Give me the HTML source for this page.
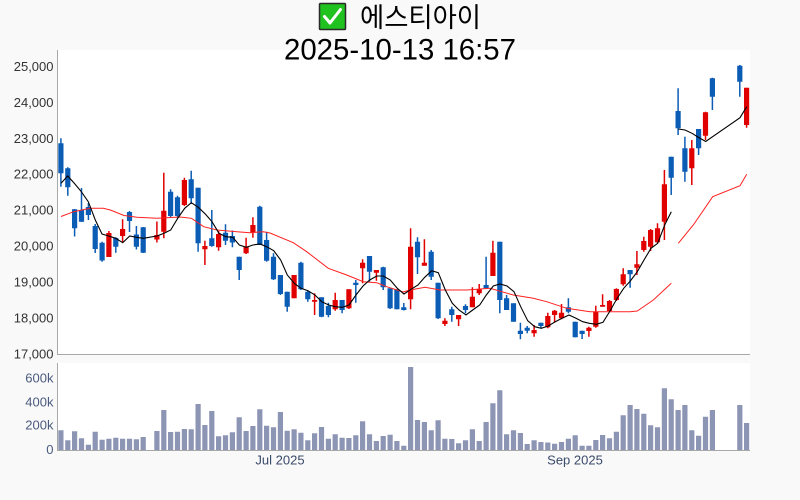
<!DOCTYPE html>
<html><head><meta charset="utf-8"><style>
html,body{margin:0;padding:0;background:#f9f9f9;}
svg{display:block;}
text{font-family:"Liberation Sans","Noto Sans CJK KR",sans-serif;}
</style></head><body>
<svg width="800" height="500" viewBox="0 0 800 500" xmlns="http://www.w3.org/2000/svg">
<rect x="0" y="0" width="800" height="500" fill="#f9f9f9"/>
<!-- plot areas -->
<rect x="57.5" y="50" width="692.5" height="304.5" fill="#ffffff"/>
<rect x="57.5" y="363" width="692.5" height="87" fill="#ffffff"/>
<!-- axis lines -->
<path d="M57.5 50V355M57 354.5H750M57.5 363V450.5M57 450.5H750" stroke="#a8a8a8" stroke-width="1" fill="none"/>

<!-- title -->
<rect x="319.5" y="3.5" width="26" height="26" rx="1" fill="#1fc21f" stroke="#2a2a2a" stroke-width="1.5"/>
<path d="M324.5 16.5L330 23L340.5 9.5" stroke="#ffffff" stroke-width="3" fill="none" stroke-linecap="round" stroke-linejoin="round"/>
<text x="360" y="27" font-size="27" fill="#000" textLength="121" lengthAdjust="spacingAndGlyphs" style='font-family:"Liberation Sans","Noto Sans CJK KR",sans-serif'>에스티아이</text>
<text x="284" y="59.3" font-size="30" fill="#000" textLength="232" lengthAdjust="spacingAndGlyphs">2025-10-13 16:57</text>

<!-- y labels main -->
<g font-size="13" fill="#333" text-anchor="end">
<text x="53.5" y="70.9">25,000</text>
<text x="53.5" y="106.8">24,000</text>
<text x="53.5" y="142.8">23,000</text>
<text x="53.5" y="178.7">22,000</text>
<text x="53.5" y="214.6">21,000</text>
<text x="53.5" y="250.5">20,000</text>
<text x="53.5" y="286.5">19,000</text>
<text x="53.5" y="322.4">18,000</text>
<text x="53.5" y="358.3">17,000</text>
</g>
<g font-size="13" fill="#4b5a7e" text-anchor="end">
<text x="53.5" y="382.4">600k</text>
<text x="53.5" y="406.4">400k</text>
<text x="53.5" y="429.7">200k</text>
<text x="53.5" y="454">0</text>
</g>
<g font-size="13" fill="#3a4a6a" text-anchor="middle">
<text x="280" y="464.5">Jul 2025</text>
<text x="575" y="464.5">Sep 2025</text>
</g>

<!-- volume bars -->
<path fill="#8d95b5" d="M58.3 450V430.3h5.2V450ZM65.2 450V440.3h5.2V450ZM72 450V431.3h5.2V450ZM78.9 450V438.3h5.2V450ZM85.8 450V444.7h5.2V450ZM92.6 450V431.7h5.2V450ZM99.5 450V439.7h5.2V450ZM106.3 450V438.7h5.2V450ZM113.2 450V437.7h5.2V450ZM120 450V438.7h5.2V450ZM126.9 450V438.7h5.2V450ZM133.8 450V439.3h5.2V450ZM140.6 450V437h5.2V450ZM154.3 450V431h5.2V450ZM161.2 450V410h5.2V450ZM168 450V432h5.2V450ZM174.9 450V431.7h5.2V450ZM181.8 450V429h5.2V450ZM188.6 450V429.3h5.2V450ZM195.5 450V404h5.2V450ZM202.3 450V425h5.2V450ZM209.2 450V411h5.2V450ZM216 450V436.3h5.2V450ZM222.9 450V435.3h5.2V450ZM229.8 450V432.3h5.2V450ZM236.6 450V417.3h5.2V450ZM243.5 450V431h5.2V450ZM250.3 450V426h5.2V450ZM257.2 450V409.3h5.2V450ZM264 450V425.7h5.2V450ZM270.9 450V427.3h5.2V450ZM277.8 450V412h5.2V450ZM284.6 450V430.7h5.2V450ZM291.5 450V429.3h5.2V450ZM298.3 450V432.7h5.2V450ZM305.2 450V440.3h5.2V450ZM312 450V433.3h5.2V450ZM318.9 450V427h5.2V450ZM325.8 450V438.7h5.2V450ZM332.6 450V434.3h5.2V450ZM339.5 450V437.7h5.2V450ZM346.3 450V438h5.2V450ZM353.2 450V435.3h5.2V450ZM360 450V421.3h5.2V450ZM366.9 450V434.3h5.2V450ZM373.8 450V441h5.2V450ZM380.6 450V436h5.2V450ZM387.5 450V434.7h5.2V450ZM394.3 450V441h5.2V450ZM401.2 450V445.7h5.2V450ZM408 450V367h5.2V450ZM414.9 450V420h5.2V450ZM421.8 450V422h5.2V450ZM428.6 450V430.3h5.2V450ZM435.5 450V420.3h5.2V450ZM442.3 450V438.7h5.2V450ZM449.2 450V439h5.2V450ZM456 450V443.3h5.2V450ZM462.9 450V440.3h5.2V450ZM469.8 450V429.3h5.2V450ZM476.6 450V441h5.2V450ZM483.5 450V422h5.2V450ZM490.3 450V403.3h5.2V450ZM497.2 450V390.3h5.2V450ZM504 450V434.3h5.2V450ZM510.9 450V430.3h5.2V450ZM517.8 450V433h5.2V450ZM524.6 450V444h5.2V450ZM531.5 450V440.3h5.2V450ZM538.3 450V442h5.2V450ZM545.2 450V442.5h5.2V450ZM552 450V443.7h5.2V450ZM558.9 450V442h5.2V450ZM565.8 450V438.7h5.2V450ZM572.6 450V435.3h5.2V450ZM579.5 450V445.7h5.2V450ZM586.3 450V445.7h5.2V450ZM593.2 450V440h5.2V450ZM600 450V435h5.2V450ZM606.9 450V438.3h5.2V450ZM613.8 450V431.7h5.2V450ZM620.6 450V415.3h5.2V450ZM627.5 450V405h5.2V450ZM634.3 450V409h5.2V450ZM641.2 450V413.7h5.2V450ZM648 450V425.3h5.2V450ZM654.9 450V427.3h5.2V450ZM661.8 450V388.3h5.2V450ZM668.6 450V399.3h5.2V450ZM675.5 450V410h5.2V450ZM682.3 450V405h5.2V450ZM689.2 450V430.3h5.2V450ZM696 450V435.7h5.2V450ZM702.9 450V416.7h5.2V450ZM709.8 450V410h5.2V450ZM737.2 450V405h5.2V450ZM744 450V423h5.2V450Z"/>

<!-- blue candles -->
<path stroke="#0b5cb5" stroke-width="1.5" fill="none" d="M60.9 138.3V186.7M67.8 167.3V195.7M74.6 209V236.5M81.5 188V222M88.4 203V220M95.2 224V253M102.1 241.7V261.7M115.8 237.3V252.7M129.5 211V232M136.4 226V249.5M143.2 227V253M170.6 189.3V217.3M177.5 195.7V218.3M191.2 170.7V204M198.1 187.7V251.7M211.8 210V246.7M225.5 224.3V245M232.4 230.5V247.3M239.2 256.7V280M259.8 205.7V245M266.6 231.7V261.7M273.5 253.3V280M280.4 275V295M287.2 291.7V311.7M300.9 261.7V290M307.8 290.7V301.7M321.5 297.3V317.3M328.4 302.7V317.3M342.1 300V313.3M355.8 280V302.7M369.5 256V281.7M383.2 266.7V290M390.1 288.3V309M396.9 289.3V309.3M403.8 303V310.5M417.5 237.3V274M431.2 250V280M438.1 282.7V319M451.8 306.7V321.7M465.5 304.3V313.3M486.1 256.7V288.3M499.8 241.7V313.3M506.6 295V310M513.5 303.3V321.7M520.4 322.7V339.3M527.2 326V333.3M540.9 322.7V328.3M568.4 298.3V313.3M575.2 321.7V337.3M582.1 330.7V339M630.1 270V287.7M671.2 156.7V195M678.1 88.3V135M684.9 136.7V181.7M698.6 129V155M712.4 77.7V110M739.8 65V96.7"/>
<path fill="#0b5cb5" d="M58.3 143.3h5.2V173.3h-5.2ZM65.2 168.3h5.2V187.3h-5.2ZM72 209.3h5.2V228.3h-5.2ZM78.9 210h5.2V221.7h-5.2ZM85.8 207h5.2V215h-5.2ZM92.6 226h5.2V249h-5.2ZM99.5 242.7h5.2V260.5h-5.2ZM113.2 238h5.2V246.7h-5.2ZM126.9 212h5.2V221h-5.2ZM133.8 234.5h5.2V246.7h-5.2ZM140.6 227.3h5.2V252.7h-5.2ZM168 191.7h5.2V216h-5.2ZM174.9 197.3h5.2V216h-5.2ZM188.6 179.3h5.2V198.3h-5.2ZM195.5 187.7h5.2V243.3h-5.2ZM209.2 238.3h5.2V246h-5.2ZM222.9 232.7h5.2V240.7h-5.2ZM229.8 236h5.2V242.5h-5.2ZM236.6 256.7h5.2V270h-5.2ZM257.2 206.7h5.2V245h-5.2ZM264 240h5.2V260.7h-5.2ZM270.9 256.7h5.2V279.3h-5.2ZM277.8 275h5.2V294h-5.2ZM284.6 291.7h5.2V306.7h-5.2ZM298.3 262.7h5.2V289.3h-5.2ZM305.2 291.7h5.2V299.3h-5.2ZM318.9 297.3h5.2V316.7h-5.2ZM325.8 306h5.2V315h-5.2ZM339.5 300h5.2V310h-5.2ZM353.2 282.7h5.2V285h-5.2ZM366.9 256h5.2V271.7h-5.2ZM380.6 267.3h5.2V287.3h-5.2ZM387.5 288.3h5.2V308.3h-5.2ZM394.3 289.3h5.2V309.3h-5.2ZM401.2 307.3h5.2V310h-5.2ZM414.9 241.7h5.2V257.3h-5.2ZM428.6 251.7h5.2V276.7h-5.2ZM435.5 282.7h5.2V318.3h-5.2ZM449.2 309.3h5.2V315h-5.2ZM462.9 306h5.2V310h-5.2ZM483.5 285h5.2V288.3h-5.2ZM497.2 241.7h5.2V300h-5.2ZM504 298.3h5.2V310h-5.2ZM510.9 303.3h5.2V321.7h-5.2ZM517.8 330.7h5.2V334h-5.2ZM524.6 327.7h5.2V330.7h-5.2ZM538.3 322.7h5.2V326h-5.2ZM565.8 307.3h5.2V311.7h-5.2ZM572.6 321.7h5.2V337.3h-5.2ZM579.5 330.7h5.2V334h-5.2ZM627.5 270h5.2V274.3h-5.2ZM668.6 156.7h5.2V177.7h-5.2ZM675.5 111h5.2V128.3h-5.2ZM682.3 148.3h5.2V171.7h-5.2ZM696 129h5.2V148.3h-5.2ZM709.8 78.3h5.2V96.7h-5.2ZM737.2 65.7h5.2V81.7h-5.2Z"/>

<!-- red candles -->
<path stroke="#e00000" stroke-width="1.5" fill="none" d="M108.9 231V257M122.6 219.3V242M156.9 221.5V242.5M163.8 172.7V238.3M184.4 177.7V206M204.9 240.7V265M218.6 231V250.7M246.1 237.7V254M252.9 217.3V237.7M294.1 275V298.3M314.6 293.3V315M335.2 292.7V310.7M348.9 289.3V309M362.6 259.3V283.3M376.4 270V280.7M410.6 228.3V309.3M424.4 239.3V265.7M444.9 318.3V326M458.6 315V326M472.4 287.3V307.3M479.2 284V295M492.9 240.7V276M534.1 325V336.7M547.8 312.7V328.3M554.6 310V322.7M561.5 304V319.3M588.9 326.7V336.7M595.8 305.7V327.7M602.6 294.3V306.7M609.5 300V311.7M616.4 288.3V301M623.2 268.3V285.7M636.9 251V275M643.8 236.7V251.7M650.6 229V251M657.5 223.3V243.3M664.4 170V240M691.8 140V185M705.5 111.7V140M746.6 87.7V127.7"/>
<path fill="#e00000" d="M106.3 233h5.2V257h-5.2ZM120 229h5.2V236h-5.2ZM154.3 235h5.2V239.5h-5.2ZM161.2 210.7h5.2V231.7h-5.2ZM181.8 180h5.2V205h-5.2ZM202.3 246h5.2V249.3h-5.2ZM216 234h5.2V247.3h-5.2ZM243.5 246.7h5.2V253.3h-5.2ZM250.3 225h5.2V232.7h-5.2ZM291.5 275h5.2V298.3h-5.2ZM312 300h5.2V301.7h-5.2ZM332.6 300h5.2V309.3h-5.2ZM346.3 289.3h5.2V308.3h-5.2ZM360 262.7h5.2V268.3h-5.2ZM373.8 270h5.2V272.7h-5.2ZM408 246.7h5.2V299.3h-5.2ZM421.8 262.7h5.2V265.7h-5.2ZM442.3 320.7h5.2V324h-5.2ZM456 315h5.2V319.3h-5.2ZM469.8 296.7h5.2V307.3h-5.2ZM476.6 289.3h5.2V293.3h-5.2ZM490.3 252.7h5.2V276h-5.2ZM531.5 330h5.2V333.3h-5.2ZM545.2 316h5.2V327.3h-5.2ZM552 310.7h5.2V315h-5.2ZM558.9 312.7h5.2V318.3h-5.2ZM586.3 327.7h5.2V331h-5.2ZM593.2 311.7h5.2V326.7h-5.2ZM600 305h5.2V306.7h-5.2ZM606.9 301h5.2V311h-5.2ZM613.8 289h5.2V300h-5.2ZM620.6 274.3h5.2V284.3h-5.2ZM634.3 264.3h5.2V267.7h-5.2ZM641.2 241h5.2V250h-5.2ZM648 230h5.2V246.7h-5.2ZM654.9 228.3h5.2V242.3h-5.2ZM661.8 184.3h5.2V221.7h-5.2ZM689.2 148.3h5.2V168.3h-5.2ZM702.9 112.3h5.2V135.7h-5.2ZM744 87.7h5.2V125h-5.2Z"/>

<!-- MA20 red -->
<polyline fill="none" stroke="#ff2020" stroke-width="1" points="61,216.5 73.7,211.7 90,208.3 103.3,208.3 110.3,210 124,215.5 137,217.3 157,218.3 180,217 191.5,218.3 203.7,226.7 217,230 237,231.7 250,232.7 263.3,231.7 270,233 293.3,242.7 306.7,251.7 328.3,268.3 346.7,275 363.3,281.7 376.7,282.7 386.7,286.7 403.3,292 410,290 425,287.3 440,290 466.7,290 490,288.3 513.3,295 533.3,298.3 546.7,301.7 566.7,308.3 590,311.7 630,311.7 637.3,311 653.3,300 671.3,283.3"/>
<polyline fill="none" stroke="#ff2020" stroke-width="1" points="678.3,243.3 693.3,225 712.7,196.7 740,185.7 746.7,174.3"/>
<!-- MA5 black -->
<polyline fill="none" stroke="#000" stroke-width="1.1" points="61,183.3 67.7,176 74.5,183.5 81.3,191.7 88.3,201.7 95.3,220 102,234 108.7,236 115.7,238.3 122.7,242.7 129.7,236 136.3,237.3 143.3,238.3 157,236 164,233.3 170.7,230 177.7,218.3 184.7,208.3 191.3,202.7 198.3,207.3 205.3,214 212,221.7 219,233.3 225.7,236.7 232.7,237.3 239.3,245 246.3,247.3 253,245 260,244 266.7,246.7 273.7,250.7 280.7,260 287.3,275 294.3,283.3 301,288.3 308,290.7 315,295 321.7,301.7 328.7,305 335.3,306.7 342.3,307.3 349,305 356,295 363,286 369.7,280 376.7,276 383.3,276 390.3,280 397.3,288.3 404,294 411,289.3 418,285 424.7,277.3 431.7,270.7 438.3,272.7 445.3,290 452.3,303.3 459,310 466,315 472.7,310 479.7,305 486.3,295 493.3,286 500,284 507,286 514,291.7 520.7,306.7 527.7,320.7 534.7,326.7 541.3,328.3 548.3,326 555.3,321.7 562,318.3 569,315 576,318.3 582.7,321.7 589.3,323.3 596.3,324.3 603,322.3 610,311 616.7,299 623.7,288.3 630.3,281 637.3,271.7 644,260 651,248.3 657.7,243.3 664.7,225 671.3,211.7"/>
<polyline fill="none" stroke="#000" stroke-width="1.1" points="678.3,129 685,130 692,133.3 698.7,137.5 705.7,141.5 740,117.7 746.7,106.7"/>
</svg>
</body></html>
